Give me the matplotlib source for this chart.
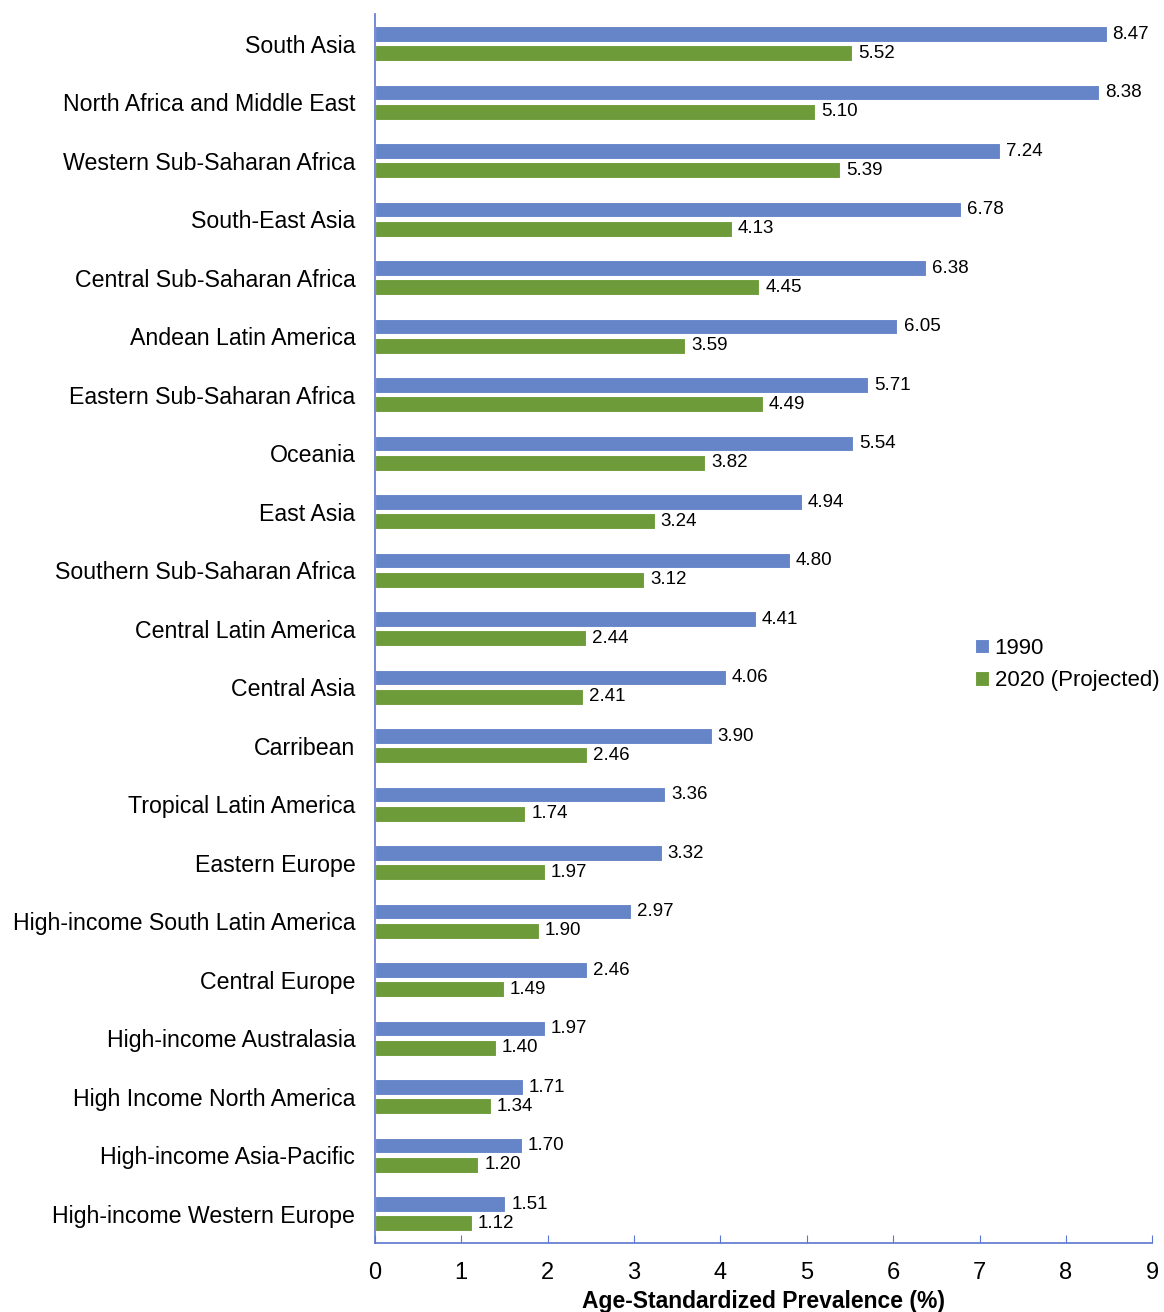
import numpy as np
import matplotlib
matplotlib.use("Agg")
import matplotlib.pyplot as plt

plt.rcParams['font.family'] = ['Liberation Sans', 'DejaVu Sans']

# Data
regions = ["South Asia", "North Africa and Middle East", "Western Sub-Saharan Africa",
           "South-East Asia", "Central Sub-Saharan Africa", "Andean Latin America",
           "Eastern Sub-Saharan Africa", "Oceania", "East Asia", "Southern Sub-Saharan Africa",
           "Central Latin America", "Central Asia", "Carribean", "Tropical Latin America",
           "Eastern Europe", "High-income South Latin America", "Central Europe",
           "High-income Australasia", "High Income North America", "High-income Asia-Pacific",
           "High-income Western Europe"]
prev_1990 = [8.47, 8.38, 7.24, 6.78, 6.38, 6.05, 5.71, 5.54, 4.94, 4.80, 4.41,
             4.06, 3.90, 3.36, 3.32, 2.97, 2.46, 1.97, 1.71, 1.70, 1.51]
prev_2020 = [5.52, 5.10, 5.39, 4.13, 4.45, 3.59, 4.49, 3.82, 3.24, 3.12, 2.44,
             2.41, 2.46, 1.74, 1.97, 1.90, 1.49, 1.40, 1.34, 1.20, 1.12]
series_labels = ["1990", "2020 (Projected)"]

blue = "#6585c8"
green = "#6e9b3a"
axis_col = "#5b76d0"

fig = plt.figure(figsize=(11.64, 13.12), dpi=100)
ax = fig.add_axes([0.322, 0.0526, 0.668, 0.9364])

y = np.arange(len(regions))
h = 0.27
off = 0.165
b1 = ax.barh(y - off, prev_1990, height=h, color=blue, edgecolor="white", linewidth=0.8, label=series_labels[0])
b2 = ax.barh(y + off, prev_2020, height=h, color=green, edgecolor="white", linewidth=0.8, label=series_labels[1])

for bars, vals in ((b1, prev_1990), (b2, prev_2020)):
    for bar, v in zip(bars, vals):
        ax.text(v + 0.07, bar.get_y() + bar.get_height() / 2, f"{v:.2f}",
                va="center", ha="left", fontsize=13.5)

ax.set_ylim(len(regions) - 0.5, -0.5)
ax.set_xlim(0, 9)
ax.set_xticks(range(10))
ax.set_yticks(y)
ax.set_yticklabels(regions, fontsize=16.7)
ax.tick_params(axis="y", length=0, pad=14)
ax.tick_params(axis="x", direction="in", length=6, color=axis_col, labelsize=17, pad=14)

for s in ("top", "right"):
    ax.spines[s].set_visible(False)
for s in ("left", "bottom"):
    ax.spines[s].set_color(axis_col)
    ax.spines[s].set_linewidth(1.2)

ax.set_xlabel("Age-Standardized Prevalence (%)", fontsize=16.5, fontweight="bold", labelpad=4)

ax.legend(loc="center left", bbox_to_anchor=(0.76, 0.471), frameon=False, fontsize=16,
          handlelength=0.65, handleheight=0.65, handletextpad=0.25, labelspacing=0.5,
          borderaxespad=0)

fig.savefig("out.png", dpi=100)
